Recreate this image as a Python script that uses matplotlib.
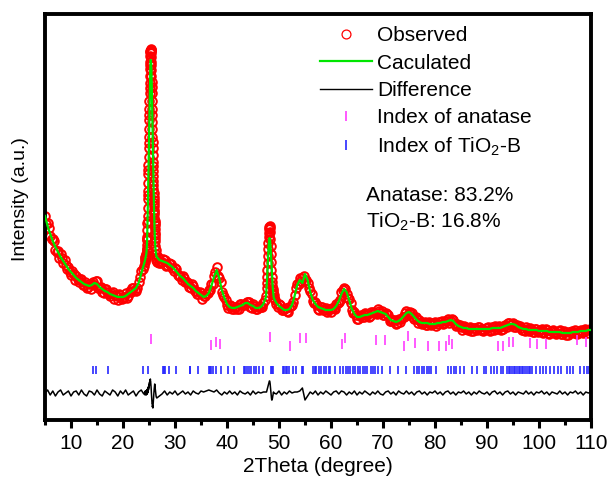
import numpy as np
import matplotlib
matplotlib.use('Agg')
import matplotlib.pyplot as plt
from matplotlib.lines import Line2D
from matplotlib.ticker import MultipleLocator

plt.rcParams['font.family'] = ['Liberation Sans', 'DejaVu Sans']
plt.rcParams['mathtext.fontset'] = 'custom'
plt.rcParams['mathtext.rm'] = 'Liberation Sans'
plt.rcParams['mathtext.it'] = 'Liberation Sans:italic'
plt.rcParams['mathtext.bf'] = 'Liberation Sans:bold'

# scan grid: 0.5 deg steps, finer steps across the (101) and (200) anatase peaks
two_theta = np.round(np.concatenate([
    np.arange(5.0, 24.01, 0.5),
    np.linspace(24.2, 24.56, 10),
    np.linspace(24.58, 26.2, 82),
    np.linspace(26.24, 26.4, 5),
    np.arange(26.5, 47.51, 0.5),
    np.linspace(47.6, 49.0, 29),
    np.arange(49.5, 110.01, 0.5),
]), 2)
# intermediate observed steps (no refined profile stored there)
theta_between = np.round(np.concatenate([
    np.arange(5.25, 23.76, 0.5),
    np.arange(26.75, 47.26, 0.5),
    np.arange(49.25, 109.76, 0.5),
]), 2)

# observed intensity (a.u.), one list per scan segment
obs_low = [204, 197, 184, 181, 170, 169, 166, 157, 155, 153, 145, 146, 144, 138, 141, 135,
           132, 136, 136, 135, 139, 132, 128, 131, 128, 124, 128, 125, 120, 125, 122, 127,
           124, 128, 132, 129, 138, 149, 154]
obs_101 = [160, 158, 163, 162, 162, 166, 165, 164, 169, 171,
           171, 175, 180, 181, 183, 190, 197, 199, 204, 212, 221, 225, 229, 237, 246, 250,
           255, 263, 272, 277, 283, 291, 300, 305, 311, 319, 327, 332, 337, 344, 351, 355,
           358, 364, 368, 369, 370, 371, 370, 369, 367, 363, 358, 355, 350, 344, 338, 333,
           327, 319, 311, 305, 298, 291, 283, 278, 272, 265, 258, 254, 249, 244, 239, 235,
           231, 227, 223, 220, 217, 214, 210, 208, 206, 202, 199, 197, 195, 191, 187, 185,
           182, 179,
           174, 170, 166, 162, 160]
obs_mid = [158, 157, 158, 160, 155, 156, 152, 152, 145, 144, 144, 138, 137, 132, 134, 129,
           126, 127, 124, 126, 130, 136, 144, 153, 142, 128, 123, 115, 115, 111, 113, 111,
           116, 115, 116, 118, 113, 116, 111, 113, 113, 117, 124]
obs_200 = [132, 137, 143, 150, 157, 164, 171, 177, 183, 187, 191, 193, 194, 192, 188, 181,
           174, 166, 158, 150, 143, 138, 134, 131, 129, 127, 126, 125, 122]
obs_high = [116, 116, 110, 111, 109, 113, 115, 125, 136, 142, 142, 139, 137, 129, 119, 118,
            111, 113, 110, 112, 110,
            108, 112, 116, 118, 128, 132, 126, 121, 110, 108, 101, 104, 103, 107, 105, 104,
            108, 107, 111, 107,
            105, 107, 105, 99, 100, 96, 101, 101, 103, 109, 107, 107, 101, 101, 100, 96,
            98, 95, 97, 96,
            98, 96, 98, 96, 99, 101, 99, 100, 94, 95, 93, 94, 91, 92, 89, 92, 90, 93, 91, 90,
            92, 89, 93, 94, 91, 93, 91, 95, 97, 95, 97, 93, 94, 92, 90, 93, 89, 91, 88, 91,
            89, 91, 88, 90, 86, 89, 88, 87, 90, 86, 88, 85, 88, 88, 90, 87, 90, 87, 90, 90, 91]

obs_between_low = [196, 192, 181, 179, 168, 162, 162, 160, 151, 148, 149, 140, 141, 141,
                   135, 138, 133, 131, 138, 139, 132, 133, 127, 131, 126, 127, 121, 124,
                   126, 121, 123, 122, 129, 132, 130, 132, 143, 151]
obs_between_mid = [163, 157, 161, 154, 157, 156, 149, 151, 144, 140, 142, 138, 133, 136,
                   129, 126, 128, 121, 124, 127, 130, 136, 148, 144, 138, 125, 120, 112,
                   114, 111, 113, 111, 116, 115, 118, 118, 112, 114, 111, 114, 113, 120]
obs_between_high = [120, 113, 115, 110, 112, 108, 114, 118, 132, 136, 139, 144, 140, 132,
                    126, 117, 115, 110, 113, 110, 108, 111,
                    112, 111, 117, 120, 130, 131, 122, 117, 107, 105, 101, 105, 103, 106,
                    103, 108, 107, 106, 109, 109,
                    105, 106, 99, 100, 100, 97, 98, 103, 107, 105, 108, 103, 103, 97,
                    98, 97, 95, 98, 95, 97,
                    94, 98, 99, 97, 99, 97, 101, 96, 96, 95, 90, 93, 90, 93, 89, 92,
                    93, 90, 89, 92,
                    93, 90, 90, 93, 94, 90, 94, 93, 97, 96, 93, 95, 94, 90, 89, 91,
                    92, 88, 91, 88,
                    90, 87, 91, 87, 89, 90, 86, 89, 86, 89, 85, 88, 89, 87, 86, 89,
                    88, 91, 87, 91]

# calculated (refined) profile on the main grid
calc_low = [204, 194, 186, 179, 173, 168, 163, 159, 155, 151, 148, 145, 142, 140, 138, 136,
            135, 134, 135, 137, 136, 133, 131, 129, 128, 126, 125, 124, 123, 123, 123, 124,
            126, 128, 130, 132, 137, 146, 155]
calc_101 = [159, 160, 161, 162, 163, 164, 165, 166, 168, 171,
            172, 174, 177, 181, 184, 188, 193, 198, 204, 210, 216, 222, 228, 234, 240, 246,
            252, 258, 265, 271, 278, 284, 291, 297, 304, 310, 316, 322, 328, 333, 338, 343,
            347, 351, 354, 357, 359, 360, 360, 360, 359, 357, 355, 353, 350, 346, 342, 338,
            333, 327, 321, 315, 309, 303, 297, 291, 285, 279, 273, 267, 261, 255, 249, 243,
            237, 232, 227, 222, 217, 213, 208, 204, 200, 196, 192, 189, 186, 183, 180, 178,
            176, 174,
            171, 169, 167, 165, 164]
calc_mid = [163, 160, 159, 158, 157, 155, 153, 150, 147, 144, 142, 139, 136, 134, 132, 129,
            127, 125, 123, 124, 127, 134, 143, 150, 142, 130, 122, 116, 113, 112, 112, 113,
            114, 115, 117, 117, 115, 114, 112, 112, 113, 116, 123]
calc_200 = [131, 135, 140, 146, 152, 158, 164, 169, 174, 177, 180, 181, 182, 181, 179, 175,
            171, 166, 161, 155, 150, 145, 140, 136, 132, 129, 126, 124, 122]
calc_high = [117, 114, 112, 110, 110, 111, 115, 124, 135, 140, 137, 146, 140, 128, 120, 116,
             113, 112, 111, 110, 110,
             110, 111, 114, 119, 126, 131, 128, 120, 111, 106, 103, 103, 104, 105, 105, 106,
             107, 108, 109, 108,
             107, 106, 103, 100, 99, 98, 99, 101, 104, 107, 108, 106, 103, 100, 98, 97,
             97, 97, 96, 96,
             96, 97, 97, 98, 98, 99, 100, 99, 96, 94, 93, 92, 92, 91, 91, 91, 91, 91, 91, 91,
             91, 91, 92, 92, 92, 92, 93, 94, 95, 96, 96, 95, 93, 92, 91, 91, 90, 90, 90, 90,
             89, 89, 89, 89, 88, 88, 88, 88, 88, 87, 87, 87, 87, 88, 88, 88, 89, 89, 89, 90, 90]

# Bragg positions
anatase_pos = [25.3, 36.9, 37.9, 38.6, 48.2, 52.2, 54.0, 55.2, 62.1, 62.6, 68.7, 70.3,
               74.0, 74.9, 76.2, 78.6, 80.7, 82.2, 82.6, 83.3, 92.1, 93.1, 94.3, 95.0,
               98.2, 99.7, 101.3, 107.3, 109.0]
anatase_level = [81.5, 75.5, 78, 76, 83.5, 74, 82, 82, 76, 82.5, 80, 80,
                 74.5, 84, 77.5, 74, 74.5, 74.5, 80, 76.5, 74, 74.5, 78, 78,
                 77, 76, 76, 80, 78]
tio2b_pos = [14.2, 14.8, 17.1, 23.8, 24.8, 27.6, 27.8, 28.0, 28.8, 30.1, 32.8, 32.9, 34.4,
             36.5, 36.7, 37.0, 37.3, 37.9, 38.8, 40.2, 41.4, 43.3, 43.5, 43.8, 44.2, 44.6,
             45.1, 45.6, 46.1, 46.9, 48.5, 48.7, 48.8, 50.8, 51.0, 51.3, 51.5, 51.9, 52.6,
             53.3, 54.4, 54.7, 56.5, 56.9, 57.2, 57.6, 58.1, 58.6, 59.1, 59.6, 59.9, 60.8,
             61.8, 62.3, 62.8, 63.2, 63.7, 64.2, 64.7, 65.1, 65.6, 66.1, 66.6, 67.0, 67.6,
             68.1, 68.5, 69.0, 69.8, 71.3, 72.8, 74.5, 76.0, 76.5, 77.0, 77.5, 77.9, 78.5,
             78.9, 79.3, 80.1, 82.5, 83.1, 83.6, 84.1, 84.9, 85.5, 87.1, 88.1, 89.4, 89.9,
             90.8, 91.3, 91.9, 92.6, 93.1, 93.8, 94.2, 94.5, 94.8, 95.1, 95.4, 95.8, 96.1,
             96.4, 96.7, 97.0, 97.4, 97.7, 98.0, 98.3, 98.7, 99.5, 100.1, 100.8, 101.4,
             102.2, 102.9, 103.6, 104.2, 105.3, 105.9, 106.5, 107.8, 108.6, 109.2, 109.7]

observed = np.array(obs_low + obs_101 + obs_mid + obs_200 + obs_high, dtype=float)
calculated = np.array(calc_low + calc_101 + calc_mid + calc_200 + calc_high, dtype=float)
obs_between = np.array(obs_between_low + obs_between_mid + obs_between_high, dtype=float)
assert len(observed) == len(calculated) == len(two_theta)
assert len(obs_between) == len(theta_between)
difference = observed - calculated

diff_offset = 27
tio2b_level = 50

red = '#ff0000'
green = '#00e600'
magenta = '#ff3cff'
blue = '#2828ff'

fig = plt.figure(figsize=(6.16, 4.86), dpi=100)
ax = fig.add_axes([45 / 616, 66 / 486, 546 / 616, 406 / 486])

obs_style = dict(ls='none', marker='o', ms=6.2, mfc='none', mec=red, mew=1.4, zorder=2)
ax.plot(two_theta, observed, **obs_style)
ax.plot(theta_between, obs_between, **obs_style)
ax.plot(two_theta, calculated, color=green, lw=1.6, zorder=3)
ax.plot(two_theta, difference + diff_offset, color='black', lw=1.1, zorder=3)
ax.plot(anatase_pos, anatase_level, ls='none', marker='|', ms=7.5, mew=1.2, color=magenta)
ax.plot(tio2b_pos, np.full(len(tio2b_pos), tio2b_level), ls='none', marker='|', ms=6.2,
        mew=1.2, color=blue)

ax.set_xlim(5, 110)
ax.set_ylim(0, 406)
ax.set_yticks([])
ax.xaxis.set_major_locator(MultipleLocator(10))
ax.xaxis.set_minor_locator(MultipleLocator(5))
ax.tick_params(axis='x', which='major', direction='out', length=6, width=2.2,
               labelsize=15, pad=4)
ax.tick_params(axis='x', which='minor', direction='out', length=3.5, width=2.2)
for sp in ax.spines.values():
    sp.set_linewidth(2.8)

ax.set_xlabel('2Theta (degree)', fontsize=15, labelpad=3)
ax.set_ylabel('Intensity (a.u.)', fontsize=14)
ax.yaxis.set_label_coords(-0.03, 0.545)

handles = [
    Line2D([], [], ls='none', marker='o', ms=6.4, mfc='none', mec=red, mew=0.9),
    Line2D([], [], color=green, lw=1.6),
    Line2D([], [], color='black', lw=1.0),
    Line2D([], [], ls='none', marker='|', ms=7.5, mew=1.2, color=magenta),
    Line2D([], [], ls='none', marker='|', ms=7.5, mew=1.2, color=blue),
]
labels = ['Observed', 'Caculated', 'Difference', 'Index of anatase', 'Index of TiO$_2$-B']
ax.legend(handles, labels, loc='upper left', bbox_to_anchor=(0.5037, 0.97), frameon=False,
          fontsize=15, handlelength=2.5, handletextpad=0.25, labelspacing=0.4, borderpad=0,
          borderaxespad=0, numpoints=1)

ax.text(0.588, 0.539, 'Anatase: 83.2%', transform=ax.transAxes, fontsize=15, va='baseline')
ax.text(0.588, 0.473, 'TiO$_2$-B: 16.8%', transform=ax.transAxes, fontsize=15, va='baseline')

fig.savefig('out.png', dpi=100)
